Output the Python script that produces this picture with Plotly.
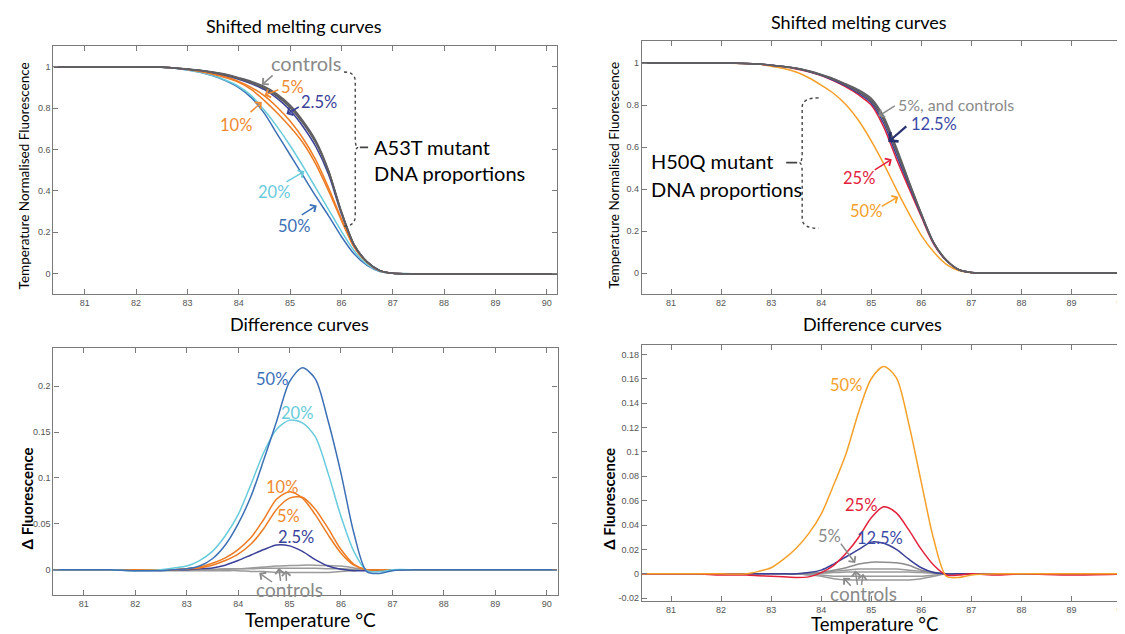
import plotly.graph_objects as go

# ---------------- data ----------------
temps = [80.4, 81, 81.5, 82, 82.5, 82.75, 83, 83.25, 83.5, 83.75, 84, 84.25, 84.5, 84.75,
         85, 85.25, 85.5, 85.75, 86, 86.25, 86.5, 86.75, 87, 87.5, 88, 89, 90.2]

x_ticks = [81, 82, 83, 84, 85, 86, 87, 88, 89, 90]
melt_ticks = [0, 0.2, 0.4, 0.6, 0.8, 1]
melt_ticktext = ["0", "0.2", "0.4", "0.6", "0.8", "1"]
diff_ticks_a53t = [0, 0.05, 0.1, 0.15, 0.2]
diff_ticktext_a53t = ["0", "0.05", "0.1", "0.15", "0.2"]
diff_ticks_h50q = [-0.02, 0, 0.02, 0.04, 0.06, 0.08, 0.1, 0.12, 0.14, 0.16, 0.18]
diff_ticktext_h50q = ["-0.02", "0", "0.02", "0.04", "0.06", "0.08", "0.1", "0.12", "0.14", "0.16", "0.18"]

# A53T shifted melting curves
a53t_ctrl1 = [1, 1, 1, 1, 0.998, 0.995, 0.99, 0.984, 0.975, 0.964, 0.948, 0.93, 0.905, 0.868, 0.815, 0.74, 0.645, 0.5, 0.3, 0.14, 0.058, 0.015, 0.002, 0, 0, 0, 0]
a53t_ctrl2 = [1, 1, 1, 1, 0.998, 0.995, 0.99, 0.983, 0.974, 0.962, 0.945, 0.926, 0.9, 0.862, 0.808, 0.733, 0.638, 0.497, 0.3, 0.14, 0.058, 0.015, 0.002, 0, 0, 0, 0]
a53t_ctrl3 = [1, 1, 1, 1, 0.998, 0.995, 0.989, 0.982, 0.973, 0.96, 0.943, 0.922, 0.896, 0.857, 0.802, 0.727, 0.632, 0.492, 0.298, 0.139, 0.058, 0.015, 0.002, 0, 0, 0, 0]
a53t_2p5 = [1, 1, 1, 1, 0.998, 0.995, 0.989, 0.982, 0.972, 0.958, 0.94, 0.918, 0.89, 0.848, 0.79, 0.712, 0.615, 0.48, 0.29, 0.136, 0.057, 0.015, 0.002, 0, 0, 0, 0]
a53t_5 = [1, 1, 1, 1, 0.998, 0.994, 0.988, 0.979, 0.967, 0.952, 0.93, 0.9, 0.86, 0.805, 0.738, 0.655, 0.55, 0.415, 0.265, 0.13, 0.055, 0.014, 0.002, 0, 0, 0, 0]
a53t_10 = [1, 1, 1, 1, 0.998, 0.994, 0.987, 0.977, 0.964, 0.947, 0.925, 0.89, 0.837, 0.777, 0.71, 0.633, 0.53, 0.4, 0.258, 0.127, 0.054, 0.014, 0.002, 0, 0, 0, 0]
a53t_20 = [1, 1, 1, 1, 0.998, 0.993, 0.985, 0.974, 0.958, 0.935, 0.905, 0.86, 0.79, 0.71, 0.62, 0.52, 0.415, 0.31, 0.205, 0.11, 0.045, 0.012, 0.002, 0, 0, 0, 0]
a53t_50 = [1, 1, 1, 1, 0.998, 0.993, 0.985, 0.974, 0.957, 0.932, 0.9, 0.85, 0.775, 0.675, 0.575, 0.475, 0.375, 0.28, 0.18, 0.095, 0.04, 0.011, 0.002, 0, 0, 0, 0]

# H50Q shifted melting curves
h50q_ctrl1 = [1, 1, 1, 1, 0.998, 0.995, 0.99, 0.984, 0.976, 0.963, 0.946, 0.926, 0.9, 0.872, 0.832, 0.745, 0.6, 0.44, 0.285, 0.145, 0.062, 0.016, 0.003, 0, 0, 0, 0]
h50q_ctrl2 = [1, 1, 1, 1, 0.998, 0.995, 0.99, 0.983, 0.975, 0.962, 0.944, 0.923, 0.897, 0.867, 0.825, 0.735, 0.59, 0.435, 0.282, 0.144, 0.062, 0.016, 0.003, 0, 0, 0, 0]
h50q_5 = [1, 1, 1, 1, 0.998, 0.995, 0.99, 0.983, 0.974, 0.961, 0.943, 0.921, 0.894, 0.862, 0.818, 0.727, 0.582, 0.43, 0.28, 0.143, 0.062, 0.016, 0.003, 0, 0, 0, 0]
h50q_12p5 = [1, 1, 1, 1, 0.998, 0.995, 0.99, 0.983, 0.974, 0.96, 0.942, 0.918, 0.89, 0.855, 0.81, 0.712, 0.565, 0.42, 0.275, 0.14, 0.06, 0.016, 0.003, 0, 0, 0, 0]
h50q_25 = [1, 1, 1, 1, 0.998, 0.995, 0.989, 0.982, 0.972, 0.958, 0.94, 0.915, 0.885, 0.848, 0.8, 0.695, 0.545, 0.405, 0.268, 0.137, 0.06, 0.016, 0.003, 0, 0, 0, 0]
h50q_50 = [1, 1, 1, 1, 0.997, 0.995, 0.985, 0.974, 0.957, 0.93, 0.895, 0.855, 0.8, 0.725, 0.63, 0.52, 0.4, 0.285, 0.18, 0.1, 0.042, 0.012, 0.002, 0, 0, 0, 0]

# A53T difference curves
a53t_d50 = [0, 0, 0, -0.001, -0.001, 0, 0.001, 0.004, 0.012, 0.027, 0.05, 0.08, 0.12, 0.162, 0.205, 0.22, 0.208, 0.162, 0.105, 0.04, -0.002, -0.004, -0.001, 0, 0, 0, 0]
a53t_d20 = [0, 0, 0, -0.001, 0, 0.002, 0.004, 0.01, 0.02, 0.037, 0.06, 0.093, 0.128, 0.153, 0.163, 0.16, 0.145, 0.105, 0.058, 0.02, -0.001, -0.002, 0, 0, 0, 0, 0]
a53t_d10 = [0, 0, 0, 0, 0, 0, 0.001, 0.003, 0.007, 0.013, 0.022, 0.035, 0.055, 0.077, 0.085, 0.078, 0.06, 0.038, 0.018, 0.005, 0, 0, 0, 0, 0, 0, 0]
a53t_d5 = [0, 0, 0, 0, 0, 0, 0.001, 0.002, 0.005, 0.01, 0.017, 0.028, 0.045, 0.066, 0.078, 0.079, 0.066, 0.045, 0.022, 0.006, 0, 0, 0, 0, 0, 0, 0]
a53t_d2p5 = [0, 0, 0, 0, 0, 0, 0, 0.001, 0.002, 0.005, 0.01, 0.016, 0.022, 0.027, 0.026, 0.02, 0.011, 0.004, 0.0005, -0.001, -0.001, 0, 0, 0, 0, 0, 0]
a53t_dc1 = [0, 0, 0, 0, 0, 0, 0, 0, 0.0005, 0.001, 0.001, 0.002, 0.003, 0.004, 0.0045, 0.005, 0.005, 0.0045, 0.004, 0.002, 0, 0, 0, 0, 0, 0, 0]
a53t_dc2 = [0, 0, 0, 0, 0, 0, 0, 0, 0, 0.0005, 0.001, 0.001, 0.0015, 0.0015, 0.0015, 0.0015, 0.0015, 0.001, 0.001, 0.0005, 0, 0, 0, 0, 0, 0, 0]
a53t_dc3 = [0, 0, 0, -0.001, -0.001, -0.001, -0.001, -0.001, -0.001, -0.001, -0.001, -0.002, -0.002, -0.003, -0.003, -0.003, -0.003, -0.003, -0.002, -0.001, 0, 0, 0, 0, 0, 0, 0]

# H50Q difference curves
h50q_d50 = [0, 0, 0, 0, 0, 0.002, 0.005, 0.012, 0.021, 0.033, 0.049, 0.073, 0.099, 0.133, 0.16, 0.17, 0.161, 0.123, 0.075, 0.028, -0.002, -0.003, -0.001, 0, 0, 0, 0]
h50q_d25 = [0, 0, 0, -0.001, -0.001, -0.0015, -0.002, -0.0025, -0.003, -0.0025, 0.001, 0.007, 0.017, 0.03, 0.046, 0.055, 0.05, 0.036, 0.02, 0.007, -0.001, -0.001, 0, -0.001, 0, -0.001, 0]
h50q_d12p5 = [0, 0, 0, 0, 0, 0, 0, 0, 0, 0.001, 0.003, 0.008, 0.014, 0.02, 0.026, 0.025, 0.02, 0.012, 0.005, 0.001, 0, 0, 0, 0, 0, 0, 0]
h50q_d5 = [0, 0, 0, 0, 0, 0, 0, 0, 0, 0.0005, 0.001, 0.003, 0.005, 0.008, 0.0095, 0.0095, 0.009, 0.007, 0.003, 0.001, 0, 0, 0, 0, 0, 0, 0]
h50q_dc1 = [0, 0, 0, 0, 0, 0, 0, 0, 0, 0.0005, 0.001, 0.002, 0.003, 0.004, 0.004, 0.004, 0.004, 0.003, 0.002, 0.001, 0, 0, 0, 0, 0, 0, 0]
h50q_dc2 = [0, 0, 0, 0, 0, 0, 0, 0, 0, 0, 0.0005, 0.001, 0.0015, 0.0015, 0.0015, 0.0015, 0.0015, 0.0015, 0.001, 0.0005, 0, 0, 0, 0, 0, 0, 0]
h50q_dc3 = [0, 0, 0, 0, 0, 0, 0, 0, 0, -0.0005, -0.001, -0.002, -0.002, -0.002, -0.002, -0.002, -0.002, -0.002, -0.002, -0.001, 0, 0, 0, 0, 0, 0, 0]
h50q_dc4 = [0, 0, 0, 0, 0, 0, 0, 0, 0, -0.001, -0.002, -0.004, -0.005, -0.005, -0.005, -0.005, -0.005, -0.005, -0.004, -0.002, 0, 0, 0, 0, 0, 0, 0]

# ---------------- colours ----------------
C_CTRL = "#5f5f63"
C_CTRL_LT = "#9a9a9a"
C_NAVY = "#3a3f98"
C_ORANGE = "#ee7b22"
C_ORANGE2 = "#f08a30"
C_CYAN = "#67cbdc"
C_BLUE = "#3c70b6"
C_RED = "#e3213b"
C_YORANGE = "#f5a028"
C_TXT_GRAY = "#8a8a8a"

FONT = "Lato, 'Open Sans', sans-serif"
TICKFONT = dict(family="'Liberation Sans Narrow', 'Liberation Sans', Arial, sans-serif", size=9, color="#555")

fig = go.Figure()


def line(y, color, xa, ya, width=1.5):
    fig.add_trace(go.Scatter(x=temps, y=y, mode="lines", xaxis=xa, yaxis=ya,
                             line=dict(color=color, width=width, shape="spline", smoothing=0.8),
                             hoverinfo="skip", showlegend=False))


# top-left
for s, c in [(a53t_50, C_BLUE), (a53t_20, C_CYAN), (a53t_10, C_ORANGE), (a53t_5, C_ORANGE),
             (a53t_2p5, C_NAVY), (a53t_ctrl3, C_CTRL), (a53t_ctrl2, C_CTRL), (a53t_ctrl1, C_CTRL)]:
    line(s, c, "x", "y")
# top-right
for s, c in [(h50q_50, C_YORANGE), (h50q_25, C_RED), (h50q_12p5, C_NAVY), (h50q_5, C_CTRL),
             (h50q_ctrl2, C_CTRL), (h50q_ctrl1, C_CTRL)]:
    line(s, c, "x2", "y2")
# bottom-left
for s, c in [(a53t_dc1, C_CTRL_LT), (a53t_dc2, C_CTRL_LT), (a53t_dc3, C_CTRL_LT),
             (a53t_d2p5, C_NAVY), (a53t_d5, C_ORANGE), (a53t_d10, C_ORANGE),
             (a53t_d20, C_CYAN), (a53t_d50, C_BLUE)]:
    line(s, c, "x3", "y3")
# bottom-right
for s, c in [(h50q_dc1, C_CTRL_LT), (h50q_dc2, C_CTRL_LT), (h50q_dc3, C_CTRL_LT), (h50q_dc4, C_CTRL_LT),
             (h50q_d5, "#8c8c8c"), (h50q_d12p5, C_NAVY), (h50q_d25, C_RED), (h50q_d50, C_YORANGE)]:
    line(s, c, "x4", "y4")

W, H = 1125, 634


def dom_x(a, b):
    return [a / W, b / W]


def dom_y(top, bottom):
    return [1 - bottom / H, 1 - top / H]


axis_common = dict(showline=True, linecolor="#7a7a7a", linewidth=1.2, mirror="ticks",
                   ticks="inside", ticklen=5, tickcolor="#7a7a7a", tickwidth=1,
                   showgrid=False, zeroline=False, tickfont=TICKFONT, fixedrange=True,
                   ticklabeloverflow="allow")

fig.update_layout(
    width=W, height=H, paper_bgcolor="white", plot_bgcolor="white",
    margin=dict(l=0, r=0, t=0, b=0), showlegend=False,
    xaxis=dict(domain=dom_x(45.5, 550.5), range=[80.39, 90.2], tickvals=x_ticks, anchor="y", **axis_common),
    yaxis=dict(domain=dom_y(38.3, 287.3), range=[-0.1, 1.1], tickvals=melt_ticks, ticktext=melt_ticktext, anchor="x", **axis_common),
    xaxis2=dict(domain=dom_x(635.7, 1118), range=[80.42, 90.03], tickvals=x_ticks, anchor="y2", **axis_common),
    yaxis2=dict(domain=dom_y(33.3, 287), range=[-0.1, 1.104], tickvals=melt_ticks, ticktext=melt_ticktext, anchor="x2", **axis_common),
    xaxis3=dict(domain=dom_x(45.6, 551), range=[80.41, 90.21], tickvals=x_ticks, anchor="y3", **axis_common),
    yaxis3=dict(domain=dom_y(340.7, 589.3), range=[-0.028, 0.242], tickvals=diff_ticks_a53t, ticktext=diff_ticktext_a53t, anchor="x3", **axis_common),
    xaxis4=dict(domain=dom_x(635.7, 1118), range=[80.42, 90.03], tickvals=x_ticks, anchor="y4", **axis_common),
    yaxis4=dict(domain=dom_y(337.7, 595), range=[-0.0224, 0.188], tickvals=diff_ticks_h50q, ticktext=diff_ticktext_h50q, anchor="x4", **axis_common),
)

ann = []


def ptext(text, px, py, size, color="black", angle=0, weight="normal"):
    ann.append(dict(text=text, x=px / W, y=1 - py / H, xref="paper", yref="paper",
                    showarrow=False, xanchor="center", yanchor="middle", textangle=angle,
                    font=dict(family=FONT, size=size, color=color, weight=weight)))


def dtext(text, x, y, ax, size, color, anchor="center", weight="normal"):
    ann.append(dict(text=text, x=x, y=y, xref=ax[0], yref=ax[1], showarrow=False,
                    xanchor=anchor, yanchor="middle",
                    font=dict(family=FONT, size=size, color=color, weight=weight)))


def arrow(x0, y0, x1, y1, ax, color, width=1.5):
    ann.append(dict(text="", x=x1, y=y1, ax=x0, ay=y0, xref=ax[0], yref=ax[1],
                    axref=ax[0], ayref=ax[1], showarrow=True, arrowhead=4,
                    arrowsize=1.1, arrowwidth=width, arrowcolor=color, standoff=0))


# panel titles
ptext("Shifted melting curves", 287, 18, 18)
ptext("Shifted melting curves", 853, 14, 18)
ptext("Difference curves", 292, 317, 18)
ptext("Difference curves", 867, 317, 18)
ptext("Temperature °C", 303, 613, 19)
ptext("Temperature °C", 869, 618, 18.5)
ptext("Temperature Normalised Fluorescence", 17, 168, 13.5, angle=-90)
ptext("Temperature Normalised Fluorescence", 608, 168, 13.5, angle=-90)
ptext("Δ Fluorescence", 20, 492, 15, angle=-90, weight="bold")
ptext("Δ Fluorescence", 603, 492, 15, angle=-90, weight="bold")

TL = ("x", "y")
TR = ("x2", "y2")
BL = ("x3", "y3")
BR = ("x4", "y4")

PCT = 16.5

# top-left labels
dtext("controls", 85.33, 1.02, TL, 20, C_TXT_GRAY)
arrow(84.69, 0.965, 84.45, 0.913, TL, C_TXT_GRAY)
dtext("5%", 85.04, 0.905, TL, PCT, C_ORANGE2)
arrow(84.8, 0.892, 84.5, 0.862, TL, C_ORANGE2)
dtext("2.5%", 85.56, 0.828, TL, PCT, C_NAVY)
arrow(85.2, 0.81, 84.93, 0.772, TL, C_NAVY)
dtext("10%", 83.95, 0.72, TL, PCT, C_ORANGE2)
arrow(84.2, 0.775, 84.45, 0.83, TL, C_ORANGE2)
dtext("20%", 84.68, 0.394, TL, PCT, C_CYAN)
arrow(84.9, 0.44, 85.28, 0.495, TL, C_CYAN)
dtext("50%", 85.07, 0.233, TL, PCT, C_BLUE)
arrow(85.2, 0.28, 85.52, 0.33, TL, C_BLUE)
dtext("A53T mutant", 86.6, 0.611, TL, 20, "black", anchor="left")
dtext("DNA proportions", 86.6, 0.487, TL, 20, "black", anchor="left")

# top-right labels
dtext("5%, and controls", 85.5, 0.803, TR, 16, C_TXT_GRAY, anchor="left")
arrow(85.5, 0.8, 85.14, 0.747, TR, C_TXT_GRAY)
dtext("12.5%", 85.76, 0.711, TR, PCT, "#3c4aa6", anchor="left")
arrow(85.73, 0.705, 85.34, 0.624, TR, "#28306e", width=2.2)
dtext("25%", 84.76, 0.455, TR, PCT, C_RED)
arrow(85.04, 0.487, 85.41, 0.542, TR, C_RED)
dtext("50%", 84.89, 0.294, TR, PCT, C_YORANGE)
arrow(85.18, 0.313, 85.54, 0.363, TR, C_YORANGE)
dtext("H50Q mutant", 80.56, 0.534, TR, 20, "black", anchor="left")
dtext("DNA proportions", 80.56, 0.4, TR, 20, "black", anchor="left")

# bottom-left labels
dtext("50%", 84.65, 0.208, BL, PCT, C_BLUE)
dtext("20%", 85.15, 0.171, BL, PCT, C_CYAN)
dtext("10%", 84.85, 0.0906, BL, PCT, C_ORANGE2)
dtext("5%", 84.98, 0.059, BL, PCT, C_ORANGE2)
dtext("2.5%", 85.13, 0.0355, BL, PCT, C_NAVY)
dtext("controls", 85.0, -0.021, BL, 19, C_TXT_GRAY)
arrow(84.69, -0.0145, 84.41, -0.0036, BL, C_TXT_GRAY)
arrow(84.83, -0.0138, 84.79, 0.0018, BL, C_TXT_GRAY)
arrow(84.94, -0.0138, 84.93, -0.0007, BL, C_TXT_GRAY)

# bottom-right labels
dtext("50%", 84.5, 0.155, BR, PCT, C_YORANGE)
dtext("25%", 84.8, 0.0567, BR, PCT, C_RED)
dtext("12.5%", 85.17, 0.0296, BR, PCT, "#3c4aa6")
dtext("5%", 84.16, 0.0307, BR, PCT, C_TXT_GRAY)
arrow(84.37, 0.026, 84.68, 0.0088, BR, C_TXT_GRAY)
dtext("controls", 84.85, -0.0159, BR, 19, C_TXT_GRAY)
arrow(84.62, -0.011, 84.44, -0.0033, BR, C_TXT_GRAY)
arrow(84.73, -0.0104, 84.68, 0.0027, BR, C_TXT_GRAY)
arrow(84.8, -0.0104, 84.84, 0.0, BR, C_TXT_GRAY)

fig.update_layout(annotations=ann)

# brackets
BR_STYLE = dict(color="#444", width=1.4, dash="dot")
fig.add_shape(type="path", xref="x", yref="y", line=BR_STYLE,
              path="M 86.05,0.975 Q 86.27,0.975 86.27,0.93 L 86.27,0.65 Q 86.27,0.611 86.33,0.611 "
                   "Q 86.27,0.611 86.27,0.57 L 86.27,0.28 Q 86.27,0.23 86.05,0.23")
fig.add_shape(type="line", xref="x", yref="y", x0=86.36, y0=0.611, x1=86.52, y1=0.611,
              line=dict(color="#444", width=1.6))
fig.add_shape(type="path", xref="x2", yref="y2", line=BR_STYLE,
              path="M 83.95,0.834 Q 83.62,0.834 83.62,0.79 L 83.62,0.57 Q 83.62,0.526 83.56,0.526 "
                   "Q 83.62,0.526 83.62,0.48 L 83.62,0.26 Q 83.62,0.213 83.95,0.213")
fig.add_shape(type="line", xref="x2", yref="y2", x0=83.3, y0=0.526, x1=83.52, y1=0.526,
              line=dict(color="#444", width=1.6))

fig.write_html("out.html")
